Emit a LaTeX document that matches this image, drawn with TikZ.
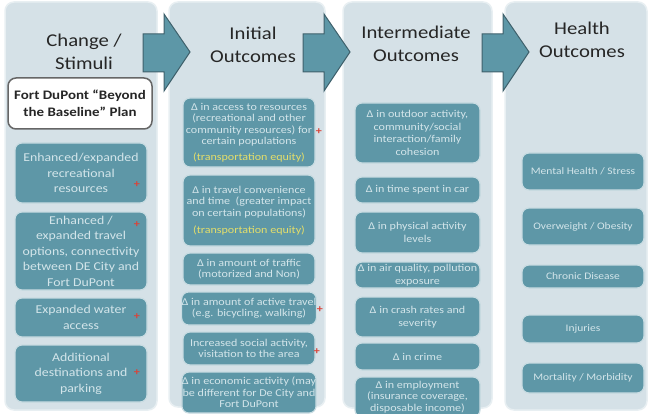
\documentclass[tikz,border=0pt]{standalone}
\usepackage{fontspec}
\setmainfont[FakeStretch=1.15]{Carlito}
\usepackage{xcolor}
\definecolor{panelcol}{HTML}{D5E1E7}
\definecolor{panelline}{HTML}{E8EFF2}
\definecolor{boxcol}{HTML}{5E97A7}
\definecolor{boxline}{HTML}{C9DCE2}
\definecolor{boxtext}{HTML}{D3E5EA}
\definecolor{eqcol}{HTML}{E4DE6A}
\definecolor{arrowcol}{HTML}{5D97A7}
\definecolor{arrowline}{HTML}{3F616C}
\definecolor{pluscol}{HTML}{D9443A}
\tikzstyle{panel}=[fill=panelcol,draw=panelline,line width=1.5pt,rounded corners=9pt]
\tikzstyle{bigarrow}=[fill=arrowcol,draw=arrowline,line width=1pt,line join=miter]
\tikzstyle{coltitle}=[font=\fontsize{18}{23}\selectfont,text=black!85,align=center]
\tikzstyle{plusmark}=[text=pluscol,font=\bfseries\fontsize{10.5}{10.5}\selectfont,inner sep=0pt]
\tikzset{
  outcome/.style={fill=boxcol,draw=boxline,line width=1.2pt,rounded corners=7pt,
                  text=boxtext,align=center,inner sep=0pt},
  planbox/.style={fill=white,draw=black!60,line width=1.5pt,rounded corners=8pt,
                  align=center,text=black!85,inner sep=0pt,minimum width=144pt,
                  minimum height=51pt,font=\bfseries\fontsize{13}{17}\selectfont},
  stimbox/.style={outcome,minimum width=132pt,font=\fontsize{12}{15.5}\selectfont},
  initbox/.style={outcome,minimum width=132pt,font=\fontsize{10.5}{11.5}\selectfont},
  interbox/.style={outcome,minimum width=125pt,font=\fontsize{10.5}{12.5}\selectfont},
  healthbox/.style={outcome,minimum width=122pt,font=\fontsize{10}{12}\selectfont}}

\begin{document}
\begin{tikzpicture}[x=1pt,y=1pt]
  \useasboundingbox (0,0) rectangle (652,-414);

  % PANELS
  \foreach \xa/\xb/\yb in {5/157/410, 169/325/407, 343/492/408, 505/647/410}{
    \draw[panel] (\xa,-2) rectangle (\xb,-\yb);
  }

  % ARROWS
  \foreach \L in {143, 303, 482}{
    \draw[bigarrow] (\L,-34) -- (\L+21,-34) -- (\L+21,-14) -- (\L+47,-52)
      -- (\L+21,-91) -- (\L+21,-72) -- (\L,-72) -- cycle;
  }

  % TITLES
  \node[coltitle] (change) at (84,-52) {Change /\\Stimuli};
  \node[coltitle] (initial) at (253,-45) {Initial\\Outcomes};
  \node[coltitle] (intermediate) at (416,-44) {Intermediate\\Outcomes};
  \node[coltitle] (health) at (582,-40) {Health\\Outcomes};

  % CHANGE / STIMULI
  \node[planbox] (plan) at (80,-103.5) {Fort DuPont “Beyond\\the Baseline” Plan};
  \node[stimbox,minimum height=60pt] (stim1) at (81,-173)
    {Enhanced/expanded\\recreational\\resources};
  \node[stimbox,minimum height=78pt] (stim2) at (81,-251)
    {Enhanced /\\expanded travel\\options, connectivity\\between DE City and\\Fort DuPont};
  \node[stimbox,minimum height=39pt] (stim3) at (81,-317.5)
    {Expanded water\\access};
  \node[stimbox,minimum height=57pt] (stim4) at (81,-373.5)
    {Additional\\destinations and\\parking};

  % INITIAL OUTCOMES
  \node[initbox,minimum height=69pt] (init1) at (249,-132.5)
    {Δ in access to resources\\(recreational and other\\community resources) for\\certain populations\\[4pt]
     \textcolor{eqcol}{(transportation equity)}};
  \node[initbox,minimum height=71pt] (init2) at (249,-210.5)
    {Δ in travel convenience\\and time \ (greater impact\\on certain populations)\\[6pt]
     \textcolor{eqcol}{(transportation equity)}};
  \node[initbox,minimum height=32pt] (init3) at (249,-269)
    {Δ in amount of traffic\\(motorized and Non)};
  \node[initbox,minimum height=33pt] (init4) at (249,-308.5)
    {Δ in amount of active travel\\(e.g. bicycling, walking)};
  \node[initbox,minimum height=33pt] (init5) at (249,-348.5)
    {Increased social activity,\\visitation to the area};
  \node[initbox,minimum height=41pt] (init6) at (249,-392.5)
    {Δ in economic activity (may\\be different for De City and\\Fort DuPont};

  % INTERMEDIATE OUTCOMES
  \node[interbox,minimum height=60pt] (inter1) at (417.5,-133)
    {Δ in outdoor activity,\\community/social\\interaction/family\\cohesion};
  \node[interbox,minimum height=26pt] (inter2) at (417.5,-190)
    {Δ in time spent in car};
  \node[interbox,minimum height=41pt] (inter3) at (417.5,-232.5)
    {Δ in physical activity\\levels};
  \node[interbox,minimum height=26pt] (inter4) at (417.5,-275)
    {Δ in air quality, pollution\\exposure};
  \node[interbox,minimum height=40pt] (inter5) at (417.5,-317)
    {Δ in crash rates and\\severity};
  \node[interbox,minimum height=27pt] (inter6) at (417.5,-356.5)
    {Δ in crime};
  \node[interbox,minimum height=40pt,font=\fontsize{10.5}{11.5}\selectfont] (inter7) at (417.5,-397)
    {Δ in employment\\(insurance coverage,\\disposable income)};

  % HEALTH OUTCOMES
  \node[healthbox,minimum height=37pt] (hlth1) at (583,-171.5) {Mental Health / Stress};
  \node[healthbox,minimum height=37pt] (hlth2) at (583,-226.5) {Overweight / Obesity};
  \node[healthbox,minimum height=23pt] (hlth3) at (583,-276.5) {Chronic Disease};
  \node[healthbox,minimum height=28pt] (hlth4) at (583,-329) {Injuries};
  \node[healthbox,minimum height=30pt] (hlth5) at (583,-378) {Mortality / Morbidity};

  % PLUS MARKS
  \foreach \x/\y [count=\i] in {137/185, 137/225, 137/317, 137/373,
                                319/132, 320/310, 317/352}{
    \node[plusmark] (plus\i) at (\x,-\y) {+};
  }
\end{tikzpicture}
\end{document}
